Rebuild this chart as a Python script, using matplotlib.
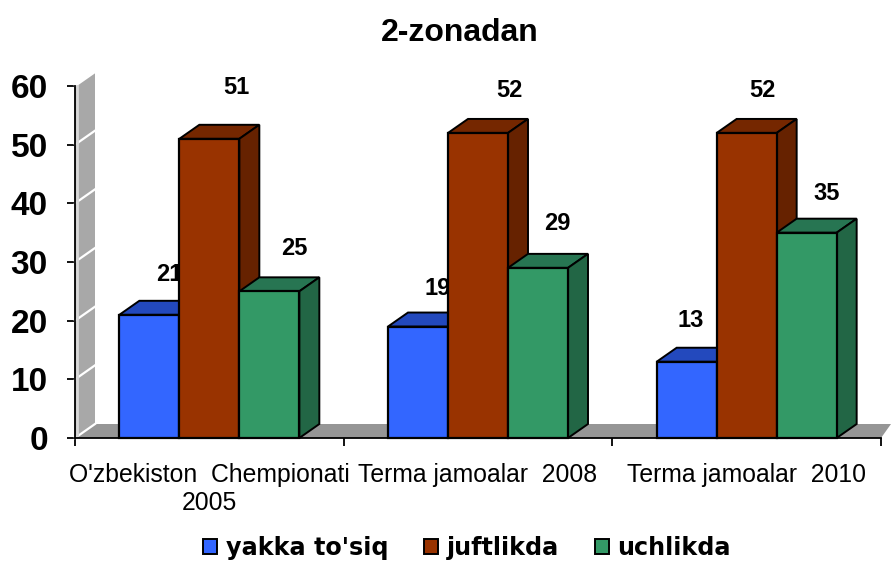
import matplotlib
matplotlib.use("Agg")
import matplotlib.pyplot as plt
from matplotlib.patches import Polygon, Patch

categories = ["O'zbekiston  Chempionati\n2005", "Terma jamoalar  2008", "Terma jamoalar  2010"]
series_names = ["yakka to'siq", "juftlikda", "uchlikda"]
yakka = [21, 19, 13]
juftlik = [51, 52, 52]
uchlik = [25, 29, 35]
y_ticks = [0, 10, 20, 30, 40, 50, 60]

W, H = 891, 561
L, R, T, B = 75, 881, 86, 438
plt.rcParams['font.family'] = ['Liberation Sans', 'DejaVu Sans']
fig = plt.figure(figsize=(W/100, H/100), dpi=100)
ax = fig.add_axes([L/W, 1-B/H, (R-L)/W, (B-T)/H])
ax.set_xlim(0, 3)
ax.set_ylim(0, 60)
px = 3/(R-L)
py = 60/(B-T)
dx, dy = 20*px, 14*py
bw = 60*px

# walls
ax.add_patch(Polygon([(0,0),(0,60),(dx,60+dy),(dx,dy)], fc='#a8a8a8', ec='none', clip_on=False, zorder=1))
ax.add_patch(Polygon([(0,0),(dx,dy),(3+10*px,dy),(3,0)], fc='#969696', ec='none', clip_on=False, zorder=1))
for t in y_ticks:
    ax.plot([0,dx],[t,t+dy], color='white', lw=1.6, clip_on=False, zorder=2)
ax.plot([1.5*px,1.5*px],[0.5,60], color='#d8d8d8', lw=2, clip_on=False, zorder=2)

colors = [('#3366FF','#2349BD','#1f40a6'),('#993300','#752700','#662200'),('#339966','#277552','#226645')]
all_vals = [yakka, juftlik, uchlik]
offsets = [[(20,40),(20,38),(4,41)],[(27,51),(31,42),(16,42)],[(25,43),(19,44),(20,39)]]
z = 3
for g in range(3):
    for s in range(3):
        v = all_vals[s][g]
        x0 = g + 0.5 + (s-1.5)*bw
        f, tp, sd = colors[s]
        ax.bar(x0, v, width=bw, align='edge', color=f, edgecolor='black', linewidth=1.6, zorder=z+2, clip_on=False)
        ax.add_patch(Polygon([(x0,v),(x0+dx,v+dy),(x0+bw+dx,v+dy),(x0+bw,v)], fc=tp, ec='black', lw=1.4, clip_on=False, zorder=z))
        ax.add_patch(Polygon([(x0+bw,0),(x0+bw,v),(x0+bw+dx,v+dy),(x0+bw+dx,dy)], fc=sd, ec='black', lw=1.4, clip_on=False, zorder=z+1))
        ax.annotate(str(v), (x0+bw/2, v), xytext=offsets[s][g], textcoords='offset pixels',
                    ha='center', va='center', fontsize=17, fontweight='bold', zorder=z+1.5, annotation_clip=False)
        z += 3

for sp in ('top','right'):
    ax.spines[sp].set_visible(False)
for sp in ('left','bottom'):
    ax.spines[sp].set_linewidth(1.3)
    ax.spines[sp].set_zorder(100)
ax.patch.set_alpha(0)
ax.set_yticks(y_ticks)
ax.set_xticks([0,1,2,3])
ax.set_xticklabels([])
ax.set_xticks([0.5,1.5,2.5], minor=True)
ax.set_xticklabels(categories, minor=True, fontsize=17.8, linespacing=1.2)
ax.tick_params(axis='x', which='minor', length=0, pad=18)
ax.tick_params(axis='x', which='major', length=6, width=1.3, direction='out')
ax.tick_params(axis='y', length=6, width=1.3, labelsize=24, pad=13.5)
for l in ax.get_yticklabels():
    l.set_fontweight('bold')

fig.text(460/W, 1-33/H, "2-zonadan", ha='center', va='center', fontsize=23, fontweight='bold')

handles = [Patch(fc=colors[i][0], ec='black', lw=1.4, label=series_names[i]) for i in range(3)]
fig.legend(handles=handles, ncol=3, loc='center', bbox_to_anchor=(467/W, 1-548/H), frameon=False,
           prop={'family':'DejaVu Sans','weight':'bold','size':17.2}, handlelength=0.6, handleheight=0.6,
           handletextpad=0.35, columnspacing=1.5, borderpad=0)
fig.savefig("out.png", dpi=100)
